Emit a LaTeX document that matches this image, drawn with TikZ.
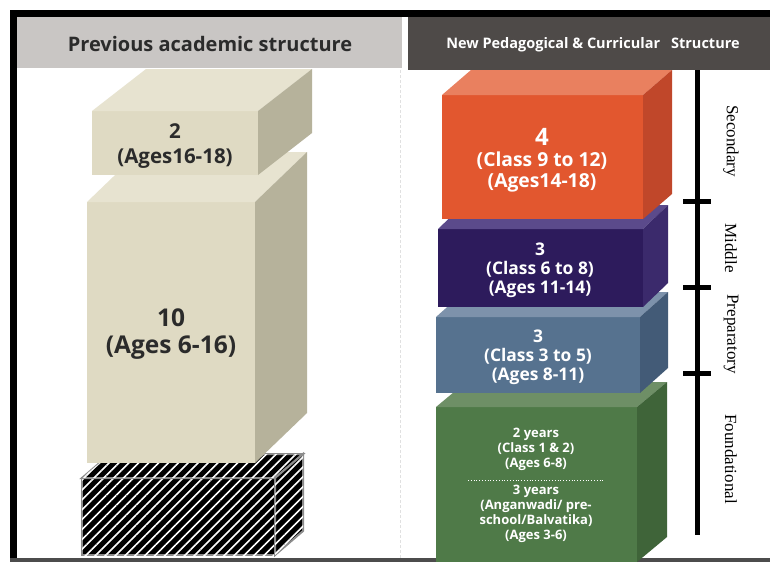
\documentclass[tikz,border=0pt]{standalone}
\usepackage{fontspec}
\setsansfont{Open Sans}
\setmainfont{Liberation Serif}
\usetikzlibrary{patterns.meta}

\definecolor{headlight}{HTML}{C9C6C4}
\definecolor{headdark}{HTML}{4E4A48}
\definecolor{inktext}{HTML}{2B2B2B}
\definecolor{oldfront}{HTML}{DFDAC3}
\definecolor{oldtop}{HTML}{E7E3D0}
\definecolor{oldside}{HTML}{B6B29B}
\definecolor{secfront}{HTML}{E2572F}
\definecolor{sectop}{HTML}{E9805F}
\definecolor{secside}{HTML}{C0472A}
\definecolor{midfront}{HTML}{2D1B5C}
\definecolor{midtop}{HTML}{5B4A8B}
\definecolor{midside}{HTML}{3B2A6C}
\definecolor{prepfront}{HTML}{56728F}
\definecolor{preptop}{HTML}{7D92AB}
\definecolor{prepside}{HTML}{435B77}
\definecolor{foundfront}{HTML}{4F7A48}
\definecolor{foundtop}{HTML}{6E8F66}
\definecolor{foundside}{HTML}{3F6439}

\tikzset{
  old front/.style={fill=oldfront},
  old top/.style={fill=oldtop},
  old side/.style={fill=oldside},
  sec front/.style={fill=secfront},
  sec top/.style={fill=sectop},
  sec side/.style={fill=secside},
  mid front/.style={fill=midfront},
  mid top/.style={fill=midtop},
  mid side/.style={fill=midside},
  prep front/.style={fill=prepfront},
  prep top/.style={fill=preptop},
  prep side/.style={fill=prepside},
  found front/.style={fill=foundfront},
  found top/.style={fill=foundtop},
  found side/.style={fill=foundside},
  hatched/.style={fill=black, draw=gray!90, line width=2pt,
    postaction={pattern={Lines[angle=45,distance=7pt,line width=1.6pt]}, pattern color=white}},
  hatch front/.style={hatched},
  hatch top/.style={hatched},
  hatch side/.style={hatched},
  oldtext/.style 2 args={font=\sffamily\bfseries\fontsize{#1}{#2}\selectfont, text=inktext, align=center},
  newtext/.style 2 args={font=\sffamily\bfseries\fontsize{#1}{#2}\selectfont, text=white, align=center},
  stage/.style={font=\rmfamily\fontsize{17}{20}\selectfont, rotate=-90},
  timeline/.style={line width=5pt},
}

% front corners x1,y1,x2,y2, depth dx,dy, face style prefix
\newcommand{\slab}[7]{%
  \path[#7 front] (#1,#2) rectangle (#3,#4);
  \path[#7 top] (#1,#2) -- (#3,#2) -- ++(#5,-#6) -- ++({#1-#3},0) -- cycle;
  \path[#7 side] (#3,#2) -- ++(#5,-#6) -- ++(0,{#4-#2}) -- (#3,#4) -- cycle;
}

\begin{document}
\begin{tikzpicture}[x=1pt,y=-1pt]
  \useasboundingbox[fill=white] (0,0) rectangle (770,562);

  \fill[headlight] (17,17) rectangle (402,68);
  \fill[headdark] (408,17) rectangle (770,70);
  \fill[black] (10,10) rectangle (770,17);
  \fill[black] (10,10) rectangle (17,560);
  \fill[black!70] (10,558) rectangle (770,562);
  \draw[black!12, densely dashed] (400,70) -- (400,558);

  \node[oldtext={20}{24}] (oldhead) at (210,44) {Previous academic structure};
  \node[newtext={14.5}{18}] (newhead) at (593,45) {New Pedagogical \& Curricular\enspace\ Structure};

  \slab{82}{478}{275}{555}{28}{24}{hatch}
  \slab{87}{202}{255}{463}{52}{50}{old}
  \slab{92}{111}{258}{175}{54}{42}{old}
  \node[oldtext={20.5}{25}] (old2) at (175,146) {2\\(Ages16-18)};
  \node[oldtext={24.5}{27}] (old10) at (171,334) {10\\(Ages 6-16)};

  \slab{436}{407}{637}{562}{30}{25}{found}
  \slab{436}{317}{640}{393}{28}{25}{prep}
  \slab{438}{229}{643}{307}{25}{24}{mid}
  \slab{442}{95}{643}{219}{29}{25}{sec}
  \node[newtext={19.3}{21}] (sec) at (542,160) {{\fontsize{24}{22}\selectfont 4}\\(Class 9 to 12)\\(Ages14-18)};
  \node[newtext={17.4}{19}] (mid) at (540,270) {3\\(Class 6 to 8)\\(Ages 11-14)};
  \node[newtext={17.4}{19}] (prep) at (538,357) {3\\(Class 3 to 5)\\(Ages 8-11)};
  \node[newtext={13}{15}] (founda) at (536,449) {2 years\\(Class 1 \& 2)\\(Ages 6-8)};
  \node[newtext={13}{15}] (foundb) at (536,514) {3 years\\(Anganwadi/ pre-\\school/Balvatika)\\(Ages 3-6)};
  \coordinate (dotl) at (468,480);
  \coordinate (dotr) at (603,480);
  \draw[white, dotted, line width=0.8pt] (dotl) -- (dotr);

  \coordinate (ltop) at (697,70);
  \coordinate (lbot) at (697,535);
  \draw[timeline] (ltop) -- (lbot);
  \foreach \y [count=\i] in {201,287,373} {
    \coordinate (tick\i) at (697,\y);
    \draw[timeline] (tick\i) ++(-14,0) -- ++(28,0);
  }
  \node[stage] (secondary) at (731,141) {Secondary};
  \node[stage] (middle) at (731,248) {Middle};
  \node[stage] (preparatory) at (731,334) {Preparatory};
  \node[stage] (foundational) at (731,459) {Foundational};
\end{tikzpicture}
\end{document}
